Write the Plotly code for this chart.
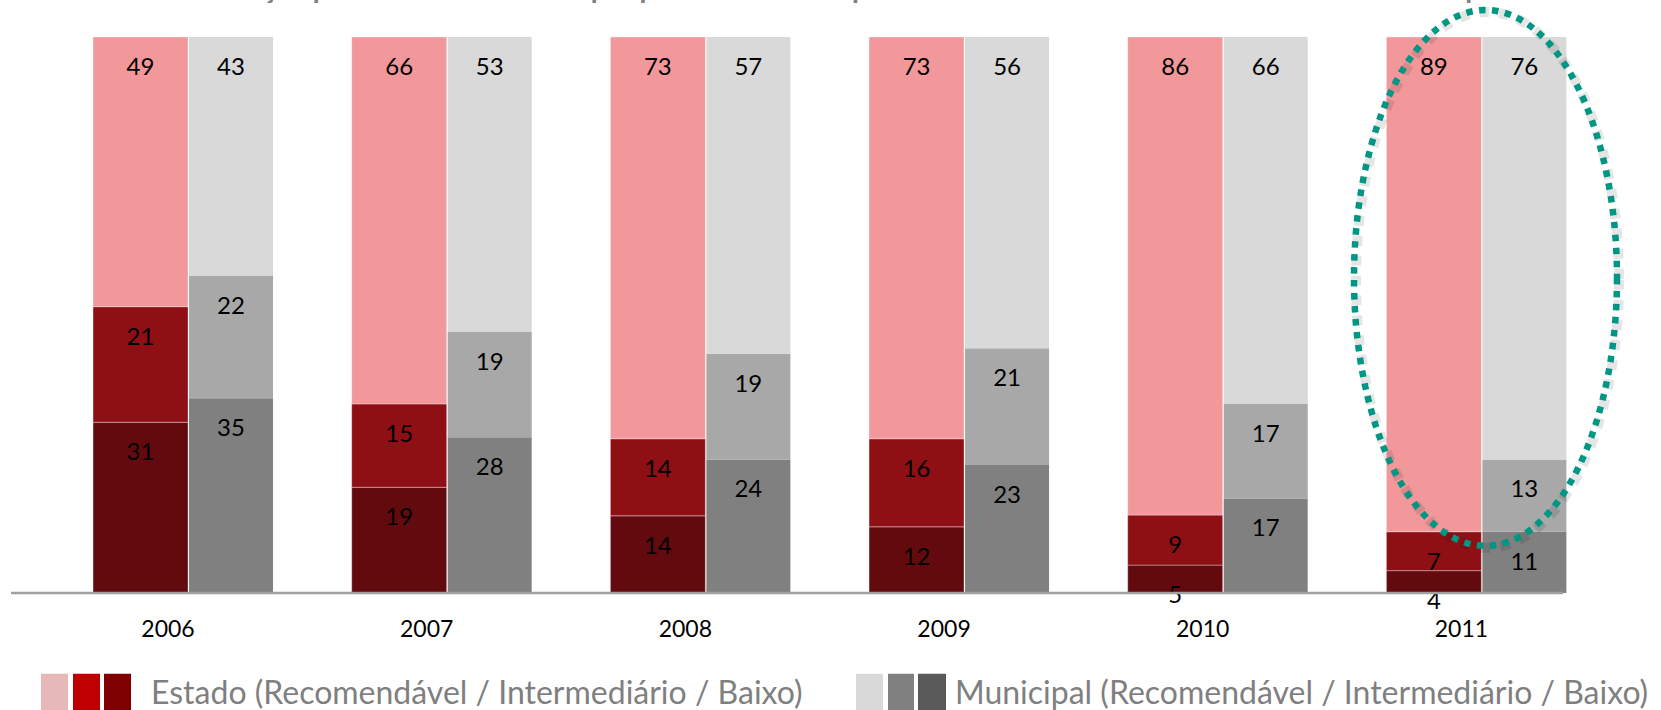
import plotly.graph_objects as go

years = ["2006", "2007", "2008", "2009", "2010", "2011"]
estado_rec = [49, 66, 73, 73, 86, 89]
estado_int = [21, 15, 14, 16, 9, 7]
estado_bai = [31, 19, 14, 12, 5, 4]
mun_rec = [43, 53, 57, 56, 66, 76]
mun_int = [22, 19, 19, 21, 17, 13]
mun_bai = [35, 28, 24, 23, 17, 11]

legend_estado = "Estado (Recomendável / Intermediário / Baixo)"
legend_mun = "Municipal (Recomendável / Intermediário / Baixo)"
title_text = "Distribuição percentual dos alunos por padrão de desempenho no SARESP – Rede Estadual e Rede Municipal"

W, H = 1661, 710
L, R, T = 11, 1610, 37
ZERO_PX = 593          # pixel row of y = 0
PX_PER_Y = 556 / 100   # pixels per percent
Y_MIN = -2
B = ZERO_PX - Y_MIN * PX_PER_Y  # bottom of plot area
UNIT = 258.67  # px per category


def px(xp):
    return (xp - L) / (R - L)


def py(yp):
    return (B - yp) / (B - T)


FONT = "Lato"
x_idx = list(range(len(years)))

# bar geometry (in category units)
E_OFF, E_W = -47.3 / UNIT, 95 / UNIT
M_OFF, M_W = 48.7 / UNIT, 84 / UNIT
LABEL_DROP = 32 / PX_PER_Y

fig = go.Figure()


def add_stack(vals_list, colors, off, wid, line):
    n = len(vals_list[0])
    totals = [sum(v[i] for v in vals_list) for i in range(n)]
    base = [0.0] * n
    lx, ly, lt = [], [], []
    for vals, col in zip(vals_list, colors):
        pct = [vals[i] / totals[i] * 100 for i in range(n)]
        fig.add_trace(go.Bar(
            x=x_idx, y=pct, base=base, offset=off, width=wid,
            marker=dict(color=col, line=dict(color=line, width=1 if line else 0)),
            showlegend=False, hoverinfo="skip",
        ))
        top = [base[i] + pct[i] for i in range(n)]
        for i in range(n):
            lx.append(x_idx[i] + off + wid / 2)
            ly.append(top[i] - LABEL_DROP)
            lt.append(str(vals[i]))
        base = top
    fig.add_trace(go.Scatter(
        x=lx, y=ly, text=lt, mode="text",
        textfont=dict(family=FONT, size=24, color="#000000"),
        showlegend=False, hoverinfo="skip", cliponaxis=False,
    ))


add_stack([estado_bai, estado_int, estado_rec],
          ["#630A0E", "#8E0F14", "#F2979A"], E_OFF, E_W, "rgba(255,255,255,0.35)")
add_stack([mun_bai, mun_int, mun_rec],
          ["#808080", "#A8A8A8", "#D9D9D9"], M_OFF, M_W, None)

shapes = []
# axis line
shapes.append(dict(type="line", xref="x", yref="y", x0=-0.5, x1=5.5, y0=0, y1=0,
                   line=dict(color="#A0A0A0", width=2.5), layer="above"))
# ellipse highlight (with soft shadow)
shapes.append(dict(type="circle", xref="paper", yref="paper",
                   x0=px(1356), x1=px(1619), y0=py(548), y1=py(12),
                   line=dict(color="rgba(0,0,0,0.10)", width=10, dash="dot"), layer="above"))
shapes.append(dict(type="circle", xref="paper", yref="paper",
                   x0=px(1354), x1=px(1617), y0=py(546), y1=py(10),
                   line=dict(color="#009684", width=6.5, dash="dot"), layer="above"))

# custom legend squares
leg_sq = [(41, 68, "#E6B9B8"), (73, 100, "#C00000"), (104, 131, "#7F0000"),
          (856, 883, "#D9D9D9"), (888, 914, "#808080"), (918, 946, "#595959")]
for x0, x1, c in leg_sq:
    shapes.append(dict(type="rect", xref="paper", yref="paper",
                       x0=px(x0), x1=px(x1), y0=py(715), y1=py(674),
                       line=dict(width=0), fillcolor=c))

annotations = [
    dict(text=legend_estado, xref="paper", yref="paper", x=px(149), y=py(692),
         xanchor="left", yanchor="middle", showarrow=False,
         font=dict(family=FONT, size=32, color="#7F7F7F")),
    dict(text=legend_mun, xref="paper", yref="paper", x=px(953), y=py(692),
         xanchor="left", yanchor="middle", showarrow=False,
         font=dict(family=FONT, size=32, color="#7F7F7F")),
    dict(text="<b>" + title_text + "</b>", xref="paper", yref="paper", x=px(829), y=py(6),
         xanchor="center", yanchor="bottom", showarrow=False,
         font=dict(family=FONT, size=28, color="#808080")),
]

fig.update_layout(
    width=W, height=H,
    margin=dict(l=L, r=W - R, t=T, b=H - B),
    paper_bgcolor="white", plot_bgcolor="white",
    barmode="overlay",
    shapes=shapes, annotations=annotations,
    xaxis=dict(range=[-0.5, -0.5 + (R - L) / UNIT], tickvals=[i + 27.7 / UNIT for i in x_idx],
               ticktext=years, showgrid=False, zeroline=False, showline=False,
               ticks="", ticklabelstandoff=9,
               tickfont=dict(family=FONT, size=23, color="#000000"), fixedrange=True),
    yaxis=dict(range=[Y_MIN, 100], visible=False, showgrid=False, zeroline=False, fixedrange=True),
    showlegend=False,
)

fig.write_html("out.html", config={"displayModeBar": False},
               post_script="document.body.style.margin='0';document.body.style.overflow='hidden';")
